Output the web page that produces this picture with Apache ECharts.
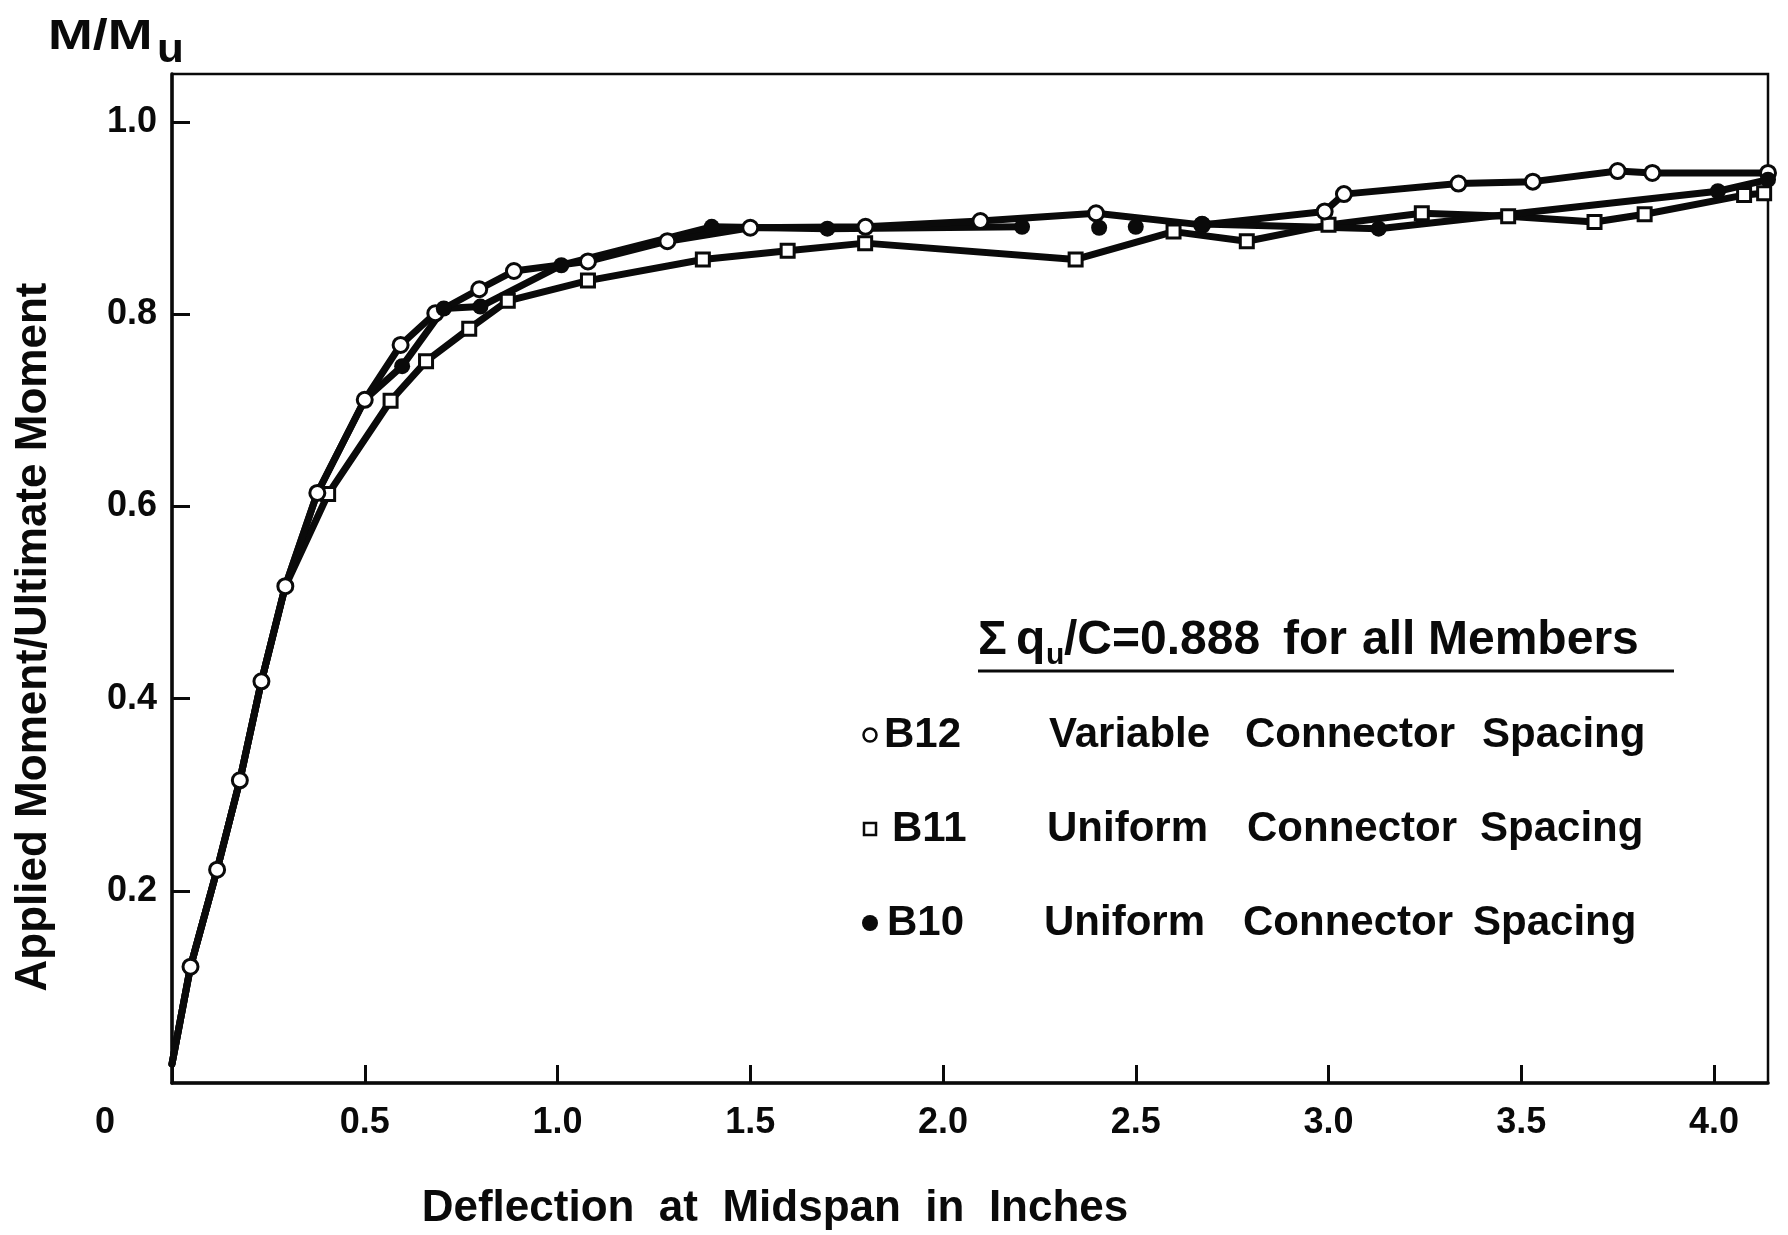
<!DOCTYPE html>
<html>
<head>
<meta charset="utf-8">
<script src="https://cdn.jsdelivr.net/npm/echarts@6/dist/echarts.min.js"></script>
<style>
  html, body { margin: 0; padding: 0; background: #fff; }
  #chart { width: 1788px; height: 1235px; }
</style>
</head>
<body>
<div id="chart"></div>
<script>
// Moment ratio M/Mu against midspan deflection (in.) for members B10, B11, B12

// shared start of all three load paths (no marker drawn there)
const curveStart = [0, 0.02];

// B12 - variable connector spacing (open circles)
const b12 = [
  [0.048, 0.121], [0.117, 0.222], [0.176, 0.315], [0.232, 0.418], [0.294, 0.517],
  [0.377, 0.614], [0.500, 0.711], [0.593, 0.768], [0.683, 0.801], [0.797, 0.826],
  [0.887, 0.845], [1.079, 0.855], [1.285, 0.876], [1.500, 0.890], [1.799, 0.891],
  [2.097, 0.897], [2.397, 0.905], [2.672, 0.893], [2.990, 0.907], [3.040, 0.925],
  [3.337, 0.936], [3.530, 0.938], [3.750, 0.949], [3.840, 0.947], [4.140, 0.947]
];

// B11 - uniform connector spacing (open squares)
const b11 = [
  [0.405, 0.613], [0.567, 0.710], [0.659, 0.751], [0.771, 0.785], [0.871, 0.814],
  [1.079, 0.835], [1.377, 0.857], [1.597, 0.866], [1.798, 0.874], [2.344, 0.857],
  [2.598, 0.886], [2.788, 0.876], [3.000, 0.893], [3.242, 0.905], [3.466, 0.902],
  [3.690, 0.896], [3.820, 0.904], [4.078, 0.924], [4.130, 0.926]
];

// B10 - uniform connector spacing (solid circles), plotted in three runs
const b10Lead = [
  [0.597, 0.746], [0.705, 0.806], [0.800, 0.808], [1.010, 0.851],
  [1.400, 0.891], [1.700, 0.889], [2.205, 0.891]
];
const b10Loose = [[2.405, 0.890], [2.500, 0.891]];
const b10Tail = [[2.672, 0.894], [3.130, 0.889], [4.010, 0.928], [4.140, 0.940]];

// how many leading B12 readings the other two members share
const b11SharedCount = 5;
const b10SharedCount = 7;

const xTickLabels = ['0', '0.5', '1.0', '1.5', '2.0', '2.5', '3.0', '3.5', '4.0'];
const yTickLabels = ['0', '0.2', '0.4', '0.6', '0.8', '1.0'];

const legendIds = ['B12', 'B11', 'B10'];
const legendWords = [
  ['Variable', 'Connector', 'Spacing'],
  ['Uniform', 'Connector', 'Spacing'],
  ['Uniform', 'Connector', 'Spacing']
];

const INK = '#0a0a0a';
const FONT = '"Liberation Sans", Arial, sans-serif';

const lineStyle = { color: INK, width: 7, join: 'round', cap: 'round' };

function pathSeries(data) {
  return {
    type: 'line', data: data, symbol: 'none', showSymbol: false,
    lineStyle: lineStyle, z: 2, silent: true
  };
}

// key block placement (px)
const legendRowsY = [735, 829, 923];
const legendIdX = [884, 892, 887];
const legendWordX = [
  [1049, 1245, 1482],
  [1047, 1247, 1480],
  [1044, 1243, 1473]
];
const legendMarkX = 870;

const graphics = [];
const textStyle = (t, size, align) => ({
  text: t, font: 'bold ' + size + 'px ' + FONT, fill: INK,
  align: align || 'left', verticalAlign: 'middle'
});

// y-axis quantity and axis titles
graphics.push({ type: 'text', x: 48, y: 37, scaleX: 1.28, style: textStyle('M/M', 42) });
graphics.push({ type: 'text', x: 157, y: 51, scaleX: 1.1, style: textStyle('u', 40) });
graphics.push({ type: 'text', x: 775, y: 1209, style: textStyle('Deflection  at  Midspan  in  Inches', 44, 'center') });
graphics.push({ type: 'text', x: 34, y: 637, rotation: Math.PI / 2,
  style: textStyle('Applied Moment/Ultimate Moment', 44, 'center') });

// heading of the key
const headY = 641;
graphics.push({ type: 'text', x: 978, y: headY, style: textStyle('\u03A3', 48) });
graphics.push({ type: 'text', x: 1016, y: headY, style: textStyle('q', 48) });
graphics.push({ type: 'text', x: 1046, y: headY + 15, style: textStyle('u', 30) });
graphics.push({ type: 'text', x: 1064, y: headY, style: textStyle('/C=0.888', 48) });
graphics.push({ type: 'text', x: 1283, y: headY, style: textStyle('for', 48) });
graphics.push({ type: 'text', x: 1362, y: headY, style: textStyle('all', 48) });
graphics.push({ type: 'text', x: 1428, y: headY, style: textStyle('Members', 48) });
graphics.push({ type: 'line', shape: { x1: 978, y1: 671, x2: 1674, y2: 671 },
  style: { stroke: INK, lineWidth: 3 } });

// key rows
legendIds.forEach((id, i) => {
  const y = legendRowsY[i];
  if (i === 0) {
    graphics.push({ type: 'circle', shape: { cx: legendMarkX, cy: y, r: 6.5 },
      style: { fill: '#fff', stroke: INK, lineWidth: 2.5 } });
  } else if (i === 1) {
    graphics.push({ type: 'rect', shape: { x: legendMarkX - 6, y: y - 6, width: 12, height: 12 },
      style: { fill: '#fff', stroke: INK, lineWidth: 2.5 } });
  } else {
    graphics.push({ type: 'circle', shape: { cx: legendMarkX, cy: y, r: 8 },
      style: { fill: INK } });
  }
  graphics.push({ type: 'text', x: legendIdX[i], y: y, style: textStyle(id, 42) });
  legendWords[i].forEach((w, j) => {
    graphics.push({ type: 'text', x: legendWordX[i][j], y: y, style: textStyle(w, 42) });
  });
});

const chart = echarts.init(document.getElementById('chart'), null, { renderer: 'canvas' });
chart.setOption({
  animation: false,
  backgroundColor: '#fff',
  grid: {
    left: 172, right: 20, top: 74, bottom: 152,
    show: true, borderColor: INK, borderWidth: 2.5, backgroundColor: 'transparent'
  },
  xAxis: {
    type: 'value', min: 0, max: 4.14, interval: 0.5,
    axisLine: { show: true, onZero: false, lineStyle: { color: INK, width: 3.5 } },
    axisTick: { show: true, inside: true, length: 18, lineStyle: { color: INK, width: 3 } },
    splitLine: { show: false },
    axisLabel: {
      showMaxLabel: false, margin: 22,
      color: INK, fontFamily: FONT, fontWeight: 'bold', fontSize: 36,
      formatter: v => {
        const i = Math.round(v / 0.5);
        return i === 0 ? '{zero|' + xTickLabels[0] + '}' : xTickLabels[i];
      },
      rich: { zero: { color: INK, fontFamily: FONT, fontWeight: 'bold', fontSize: 36, padding: [0, 134, 0, 0] } }
    }
  },
  yAxis: {
    type: 'value', min: 0, max: 1.05, interval: 0.2,
    axisLine: { show: true, onZero: false, lineStyle: { color: INK, width: 3.5 } },
    axisTick: { show: true, inside: true, length: 18, lineStyle: { color: INK, width: 3 } },
    splitLine: { show: false },
    axisLabel: {
      showMinLabel: false, showMaxLabel: false, margin: 15,
      color: INK, fontFamily: FONT, fontWeight: 'bold', fontSize: 36,
      formatter: v => yTickLabels[Math.round(v / 0.2)]
    }
  },
  series: [
    pathSeries([curveStart].concat(b12.slice(0, b11SharedCount), b11)),
    pathSeries([curveStart].concat(b12.slice(0, b10SharedCount), b10Lead)),
    pathSeries(b10Tail),
    pathSeries([curveStart].concat(b12)),
    {
      type: 'scatter', data: b11, symbol: 'rect', symbolSize: 13, z: 3, silent: true,
      itemStyle: { color: '#fff', borderColor: INK, borderWidth: 3, opacity: 1 }
    },
    {
      type: 'scatter', data: b12, symbol: 'circle', symbolSize: 15, z: 4, silent: true,
      itemStyle: { color: '#fff', borderColor: INK, borderWidth: 3, opacity: 1 }
    },
    {
      type: 'scatter', data: b10Lead.concat(b10Loose, b10Tail), symbol: 'circle', symbolSize: 16, z: 5, silent: true,
      itemStyle: { color: INK, opacity: 1 }
    }
  ],
  graphic: graphics
});
</script>
</body>
</html>
